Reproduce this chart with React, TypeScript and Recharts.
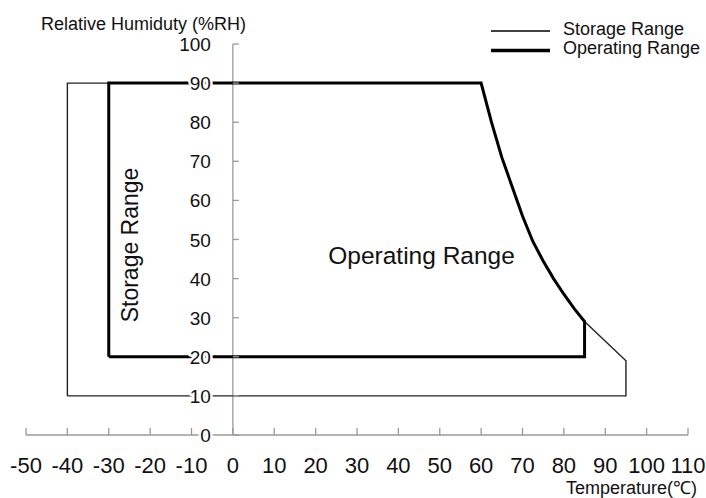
import React from 'react';
import { ComposedChart, Line, Scatter, XAxis, YAxis } from 'recharts';

// Temperature (°C) ticks and RH (%) ticks
const xTicks = [-50, -40, -30, -20, -10, 0, 10, 20, 30, 40, 50, 60, 70, 80, 90, 100, 110];
const yTicks = [0, 10, 20, 30, 40, 50, 60, 70, 80, 90, 100];

// Upper-right boundary curve (temperature, RH)
const curveTemps = [60, 62.5, 65, 67.5, 70, 72.5, 75, 77.5, 80, 82.5, 85];
const curveRH = [90, 80, 71, 63.5, 56, 49.5, 44.5, 40, 36, 32.3, 29];

// Storage range corners
const storageTemps = [-40, -40, 95, 95];
const storageRH = [10, 90, 19, 10];

// Operating range corners
const operatingTemps = [-30, -30, 85];
const operatingRH = [20, 90, 20];

const curve = curveTemps.map((t, i) => ({ x: t, y: curveRH[i] }));

const storageData = [
  { x: storageTemps[0], y: storageRH[0] },
  { x: storageTemps[1], y: storageRH[1] },
  ...curve,
  { x: storageTemps[2], y: storageRH[2] },
  { x: storageTemps[3], y: storageRH[3] },
  { x: storageTemps[0], y: storageRH[0] },
];

const operatingData = [
  { x: operatingTemps[0], y: operatingRH[0] },
  { x: operatingTemps[1], y: operatingRH[1] },
  ...curve,
  { x: operatingTemps[2], y: operatingRH[2] },
  { x: operatingTemps[0], y: operatingRH[0] },
];

const yAxisLine = [
  { x: 0, y: 0 },
  { x: 0, y: 100 },
];
const yTickData = yTicks.map((v) => ({ x: 0, y: v }));

const regionLabels = [
  { x: -23, y: 48.6, text: 'Storage Range', rotate: true },
  { x: 45.6, y: 43.7, text: 'Operating Range', rotate: false },
];

const FONT = '"Liberation Sans", Arial, sans-serif';
const AXIS = '#9a9a9a';
const TEXT = '#111';

const XTick = (props: any) => {
  const { x, y, payload } = props;
  return (
    <g>
      <line x1={x} x2={x} y1={y - 7} y2={y} stroke={AXIS} strokeWidth={1.3} />
      <text x={x} y={y + 38} textAnchor="middle" fontSize={22} fill={TEXT} fontFamily={FONT}>
        {payload.value}
      </text>
    </g>
  );
};

const YTickMark = (p: any) => (
  <line x1={p.cx} x2={p.cx + 6} y1={p.cy} y2={p.cy} stroke={AXIS} strokeWidth={1.3} />
);

const YTickLabel = (p: any) => (
  <text
    x={p.cx - 22}
    y={p.cy + 7}
    textAnchor="end"
    fontSize={19}
    fill={TEXT}
    stroke="#fff"
    strokeWidth={5}
    strokeLinejoin="round"
    paintOrder="stroke"
    fontFamily={FONT}
  >
    {p.payload.y}
  </text>
);

const RegionLabel = (p: any) => {
  const { cx, cy, payload } = p;
  if (payload.rotate) {
    return (
      <text
        x={cx}
        y={cy}
        textAnchor="middle"
        fontSize={23}
        fill={TEXT}
        fontFamily={FONT}
        transform={`rotate(-90 ${cx} ${cy})`}
      >
        {payload.text}
      </text>
    );
  }
  return (
    <text x={cx} y={cy} textAnchor="middle" fontSize={24.5} fill={TEXT} fontFamily={FONT}>
      {payload.text}
    </text>
  );
};

export default function App() {
  return (
    <div style={{ position: 'absolute', left: 0, top: 0, width: 706, height: 498, background: '#fff' }}>
      <ComposedChart
        width={706}
        height={498}
        margin={{ top: 44, right: 18, bottom: 33, left: 26 }}
      >
        <XAxis
          dataKey="x"
          type="number"
          domain={[-50, 110]}
          ticks={xTicks}
          interval={0}
          height={30}
          axisLine={{ stroke: AXIS, strokeWidth: 1.3 }}
          tickLine={false}
          tickSize={0}
          tickMargin={0}
          tick={<XTick />}
        />
        <YAxis dataKey="y" type="number" domain={[0, 100]} hide />
        <Line
          data={yAxisLine}
          dataKey="y"
          stroke={AXIS}
          strokeWidth={1.3}
          dot={false}
          activeDot={false}
          isAnimationActive={false}
        />
        <Scatter data={yTickData} dataKey="y" shape={YTickMark} isAnimationActive={false} />
        <Line
          data={storageData}
          dataKey="y"
          type="linear"
          stroke="#222"
          strokeWidth={1.4}
          dot={false}
          activeDot={false}
          isAnimationActive={false}
        />
        <Line
          data={operatingData}
          dataKey="y"
          type="linear"
          stroke="#000"
          strokeWidth={3}
          strokeLinejoin="miter"
          dot={false}
          activeDot={false}
          isAnimationActive={false}
        />
        <Scatter data={yTickData} dataKey="y" shape={YTickLabel} isAnimationActive={false} />
        <Scatter data={regionLabels} dataKey="y" shape={RegionLabel} isAnimationActive={false} />
      </ComposedChart>
      <svg
        width={706}
        height={498}
        style={{ position: 'absolute', left: 0, top: 0, pointerEvents: 'none' }}
        fontFamily={FONT}
      >
        <text x={41} y={30} fontSize={18} fill={TEXT}>
          Relative Humiduty (%RH)
        </text>
        <line x1={491} x2={550} y1={31} y2={31} stroke="#000" strokeWidth={1.3} />
        <line x1={491} x2={550} y1={50.5} y2={50.5} stroke="#000" strokeWidth={3.5} />
        <text x={563} y={35} fontSize={18} fill={TEXT}>
          Storage Range
        </text>
        <text x={563} y={53.5} fontSize={18} fill={TEXT}>
          Operating Range
        </text>
        <text x={697} y={494} fontSize={18} fill={TEXT} textAnchor="end">
          Temperature(℃)
        </text>
      </svg>
    </div>
  );
}
